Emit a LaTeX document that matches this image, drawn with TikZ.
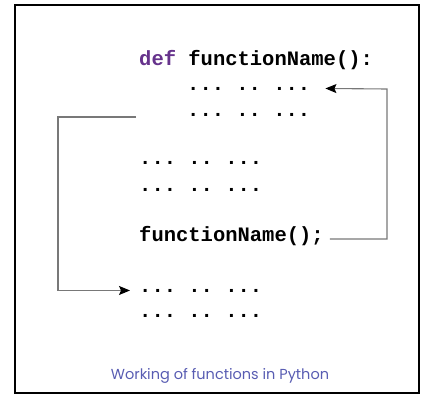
\documentclass[tikz,border=0pt]{standalone}
\usepackage{fontspec}
\setmonofont{Liberation Mono}
\newfontfamily\captionfont{Poppins}
\usetikzlibrary{arrows.meta}
\definecolor{defpurple}{RGB}{102,51,140}
\definecolor{captionblue}{RGB}{88,92,178}
\definecolor{flowgray}{RGB}{120,120,120}

\begin{document}
\begin{tikzpicture}[
	x=1pt, y=-1pt,
	>={Stealth[black,length=11pt,width=9pt,inset=2pt]},
	code/.style={font=\ttfamily\bfseries\fontsize{20.5}{24}\selectfont, anchor=base west, inner sep=0pt},
	flow/.style={draw=flowgray, line width=1.1pt}]

	\def\xcode{139}% left column of the code
	\def\xbody{187}% indented body
	\def\dotrow{... .. ...}

	\useasboundingbox (0,0) rectangle (425,396);
	\draw[line width=2pt] (15,5) rectangle (419,393);

	\node[code] (head) at (\xcode,65) {{\color{defpurple}def} functionName():};
	\node[code] (body1) at (\xbody,90) {\dotrow};
	\node[code] (body2) at (\xbody,116) {\dotrow};

	\node[code] (body3) at (\xcode,164) {\dotrow};
	\node[code] (body4) at (\xcode,191) {\dotrow};
	\node[code] (call) at (\xcode,241) {functionName();};

	\node[code] (body5) at (\xcode,292) {\dotrow};
	\node[code] (body6) at (\xcode,317) {\dotrow};

	\node[font=\captionfont\fontsize{14.5}{17}\selectfont, text=captionblue, anchor=base] (caption) at (220,379) {Working of functions in Python};

	% call -> definition
	\coordinate (callout) at ([xshift=6pt,yshift=2pt]call.base east);
	\coordinate (rcorner) at (387,89);
	\draw[flow,->] (callout) -| (rcorner) -- ([xshift=15pt]body1.east);

	% return -> after the call
	\coordinate (lstart) at (136,117);
	\coordinate (lcorner) at (58,117);
	\draw[flow,->] (lstart) -- (lcorner) |- ([xshift=-9pt]body5.west);

\end{tikzpicture}
\end{document}
